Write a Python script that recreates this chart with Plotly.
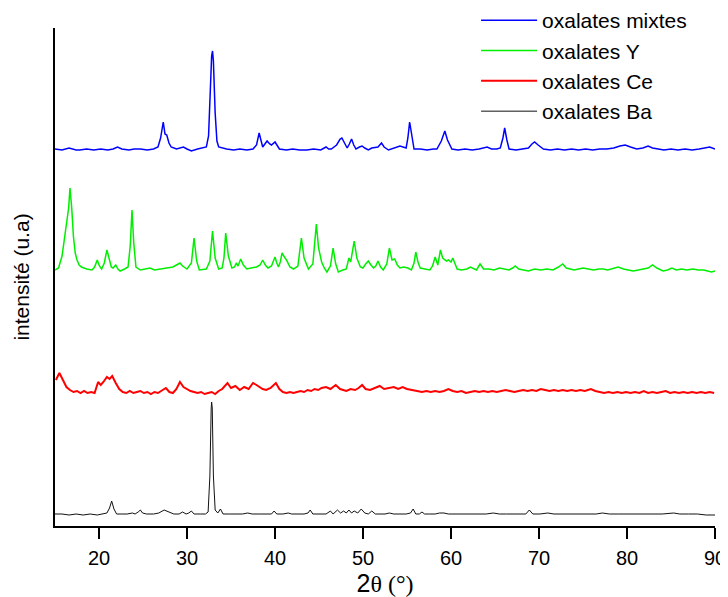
import plotly.graph_objects as go

# ---- data (x = 2theta in degrees, y = stacked intensity, arbitrary units) ----
mixtes = [(15.0,377),(15.8,376),(16.6,378),(17.4,376),(17.8,376),(18.6,377),(19.4,376),(20.2,377),(21.0,376),(21.6,377),
          (22.1,379),(22.6,377),(23.4,376),(24.0,377),(24.7,377),(25.5,376),(26.2,377),(26.7,379),(27.0,388),(27.3,404),
          (27.5,392),(27.7,391),(27.95,383),(28.2,379),(28.8,377),(29.6,379),(30.0,377),(30.5,375),(31.2,377),(31.7,378),
          (32.2,379),(32.45,390),(32.6,429),(32.8,470),(32.9,475),(33.0,465),(33.2,413),(33.4,385),(33.6,379),(34.5,377),
          (35.3,376),(36.0,377),(36.8,376),(37.5,377),(37.9,381),(38.2,393),(38.4,386),(38.6,379),(38.85,382),(39.1,385),
          (39.4,382),(39.6,381),(40.0,384),(40.25,380),(40.5,377),(41.3,376),(42.0,377),(42.8,376),(43.6,376),(44.4,377),
          (45.2,376),(45.8,379),(46.1,377),(46.4,377),(47.0,381),(47.4,387),(47.6,388),(47.9,383),(48.2,378),(48.45,382),
          (48.7,387),(48.95,381),(49.2,377),(49.6,379),(49.9,380),(50.2,378),(50.6,376),(51.0,378),(51.4,379),(51.7,379),
          (52.1,383),(52.4,379),(52.9,376),(53.5,378),(54.2,380),(54.9,378),(55.1,388),(55.3,404),(55.5,392),(55.8,377),
          (56.5,377),(57.3,376),(58.0,377),(58.4,377),(58.9,385),(59.3,395),(59.6,386),(60.1,377),(60.8,376),(61.6,377),
          (62.4,376),(63.2,377),(64.1,379),(64.6,377),(65.2,377),(65.6,378),(65.9,388),(66.1,398),(66.35,386),(66.6,377),
          (67.4,376),(68.2,377),(68.8,378),(69.2,382),(69.5,384),(69.9,381),(70.5,377),(71.3,376),(72.1,377),(72.9,376),
          (73.7,377),(74.5,376),(75.3,377),(76.1,376),(76.9,377),(77.7,377),(78.5,378),(79.2,380),(79.8,381),(80.4,379),
          (81.1,377),(81.8,378),(82.4,380),(82.9,378),(83.4,377),(84.2,376),(85.0,377),(85.8,376),(86.6,377),(87.4,376),
          (88.2,377),(88.8,378),(89.4,379),(90.0,377)]

oxal_y = [(15.0,256),(15.4,258),(15.8,270),(16.1,290),(16.4,313),(16.55,318),(16.7,338),(16.9,318),(17.1,289),(17.3,273),
          (17.5,266),(17.75,261),(18.0,259),(18.6,257),(19.2,256),(19.5,259),(19.8,266),(20.05,260),(20.3,257),(20.6,263),
          (20.9,276),(21.15,266),(21.4,259),(21.6,258),(21.9,261),(22.15,257),(22.4,255),(22.9,257),(23.3,259),(23.55,280),
          (23.75,316),(23.95,283),(24.2,259),(24.7,256),(25.2,257),(25.8,258),(26.3,256),(26.9,257),(27.5,258),(28.0,259),
          (28.4,259),(28.8,261),(29.2,263),(29.5,260),(30.0,257),(30.5,263),(30.8,288),(31.1,265),(31.4,256),(32.2,257),
          (32.6,265),(32.9,295),(33.2,268),(33.6,257),(34.0,258),(34.2,268),(34.4,293),(34.7,270),(35.1,258),(35.4,259),
          (35.6,263),(35.8,260),(36.1,267),(36.4,261),(36.8,257),(37.3,258),(37.9,259),(38.3,261),(38.6,266),(38.9,261),
          (39.2,258),(39.6,260),(40.0,269),(40.2,263),(40.4,259),(40.6,264),(40.8,273),(41.0,270),(41.3,266),(41.7,259),
          (42.1,257),(42.6,260),(43.0,288),(43.3,268),(43.8,257),(44.3,262),(44.5,280),(44.7,302),(44.95,278),(45.3,264),
          (45.6,258),(45.9,254),(46.3,260),(46.6,278),(46.9,262),(47.2,254),(47.7,256),(48.1,257),(48.4,268),(48.6,264),
          (49.0,285),(49.3,268),(49.7,259),(50.0,258),(50.3,262),(50.6,265),(50.9,261),(51.2,258),(51.45,260),(51.7,265),
          (52.0,259),(52.3,256),(52.7,262),(53.0,278),(53.3,266),(53.6,267),(53.9,261),(54.2,258),(54.6,259),(55.1,258),
          (55.5,256),(55.8,263),(56.0,274),(56.25,264),(56.5,258),(57.0,257),(57.6,256),(57.9,260),(58.2,269),(58.5,261),
          (58.8,276),(59.05,268),(59.3,266),(59.5,265),(59.7,266),(60.0,264),(60.2,268),(60.45,262),(60.7,257),(61.2,256),
          (61.8,257),(62.2,259),(62.6,257),(62.9,256),(63.3,262),(63.7,257),(64.3,257),(64.9,256),(65.5,258),(66.0,257),
          (66.6,256),(67.0,258),(67.3,260),(67.7,257),(68.2,256),(68.8,255),(69.5,257),(70.2,256),(70.9,257),(71.6,256),
          (72.2,259),(72.7,262),(73.1,258),(73.5,257),(74.0,256),(74.5,257),(75.0,258),(75.6,257),(76.2,256),(76.8,257),
          (77.3,257),(77.8,256),(78.5,258),(79.0,259),(79.6,257),(80.2,256),(80.7,255),(81.3,256),(81.9,257),(82.4,258),
          (82.9,261),(83.4,258),(84.1,255),(84.6,256),(85.1,258),(85.6,256),(86.2,257),(86.8,256),(87.5,257),(88.1,256),
          (88.7,256),(89.2,255),(89.6,254),(90.0,255)]

oxal_ce = [(15.1,146),(15.5,153),(15.9,146),(16.3,139),(16.7,136),(17.1,134),(17.5,135),(17.9,133),(18.3,135),(18.7,133),
           (19.1,134),(19.5,133),(19.9,144),(20.2,141),(20.5,144),(20.9,149),(21.2,147),(21.5,150),(21.9,143),(22.3,137),
           (22.7,134),(23.1,133),(23.5,135),(23.9,133),(24.3,134),(24.7,135),(25.1,133),(25.5,134),(25.9,132),(26.3,134),
           (26.7,133),(27.1,135),(27.6,138),(28.0,134),(28.4,133),(28.8,137),(29.2,144),(29.6,139),(30.0,137),(30.4,135),
           (30.8,134),(31.2,133),(31.6,134),(32.0,132),(32.4,133),(32.8,134),(33.2,132),(33.6,135),(34.0,137),(34.6,143),
           (35.0,138),(35.5,140),(36.0,136),(36.5,139),(37.0,137),(37.5,143),(37.9,141),(38.2,139),(38.6,137),(39.0,136),
           (39.5,138),(40.1,143),(40.5,137),(40.9,134),(41.3,133),(41.7,134),(42.1,133),(42.5,134),(42.9,135),(43.3,134),
           (43.7,136),(44.1,135),(44.5,137),(44.9,136),(45.3,138),(45.8,139),(46.3,137),(46.9,141),(47.4,137),(48.1,135),
           (48.6,137),(49.1,136),(49.5,138),(49.9,141),(50.3,137),(50.8,136),(51.3,138),(51.9,140),(52.4,137),(52.9,138),
           (53.5,139),(54.0,137),(54.5,139),(55.0,137),(55.7,136),(56.2,135),(56.7,134),(57.2,135),(57.7,134),(58.2,135),
           (58.7,134),(59.2,135),(59.7,137),(60.2,135),(60.7,134),(61.2,135),(61.7,133),(62.2,134),(62.7,135),(63.2,134),
           (63.7,135),(64.2,134),(64.7,135),(65.2,134),(65.7,135),(66.2,136),(66.7,135),(67.2,134),(67.7,135),(68.2,136),
           (68.7,135),(69.2,136),(69.7,135),(70.2,137),(70.7,136),(71.2,135),(71.7,136),(72.2,135),(72.7,136),(73.2,135),
           (73.7,136),(74.2,135),(74.7,136),(75.2,135),(75.9,137),(76.4,135),(76.9,134),(77.4,133),(77.9,134),(78.4,133),
           (78.9,134),(79.4,133),(79.9,134),(80.4,133),(80.9,134),(81.4,133),(81.9,135),(82.4,133),(82.9,134),(83.4,133),
           (83.9,134),(84.4,135),(84.9,133),(85.4,134),(85.9,133),(86.4,134),(86.9,133),(87.4,134),(87.9,133),(88.4,134),
           (88.9,133),(89.4,134),(89.9,133)]

oxal_ba = [(15.0,12),(15.8,12),(16.6,11),(17.4,12),(18.2,11),(19.0,12),(19.8,11),(20.4,12),(20.9,13),(21.2,18),
           (21.44,25),(21.7,17),(22.0,12),(22.6,12),(23.2,12),(23.8,13),(24.1,12),(24.45,14),(24.7,16),(24.95,13),
           (25.4,12),(26.2,12),(26.8,13),(27.4,16),(27.9,14),(28.5,12),(29.1,12),(29.5,14),(29.9,12),(30.2,13),
           (30.5,15),(30.8,12),(31.5,12),(32.1,12),(32.4,14),(32.6,50),(32.75,118),(32.8,124),(32.87,118),(33.0,50),
           (33.2,16),(33.5,13),(33.8,17),(34.1,12),(34.8,12),(35.6,12),(36.3,12),(36.9,13),(37.4,12),(38.2,12),
           (38.9,12),(39.6,12),(39.9,15),(40.2,12),(40.9,12),(41.5,13),(41.9,12),(42.6,12),(43.3,12),(43.75,13),
           (44.0,16),(44.3,12),(45.0,12),(45.8,12),(46.3,15),(46.6,12),(47.1,16),(47.45,13),(47.8,15),(48.1,13),
           (48.4,16),(48.7,13),(49.0,15),(49.4,13),(49.8,17),(50.2,13),(50.6,12),(51.0,15),(51.4,12),(52.0,12),
           (52.5,12),(53.0,13),(53.5,12),(54.2,12),(54.9,12),(55.4,13),(55.7,17),(56.0,12),(56.4,12),(56.7,14),
           (57.0,12),(57.6,12),(58.2,12),(58.7,13),(59.2,13),(59.7,12),(60.5,12),(61.4,12),(62.3,12),(63.2,12),
           (64.0,12),(64.8,13),(65.5,12),(66.3,12),(67.1,12),(67.9,12),(68.5,12),(68.9,16),(69.3,12),(70.1,12),
           (71.0,13),(71.7,12),(72.5,12),(73.5,12),(74.5,12),(75.5,12),(76.5,12),(77.2,13),(78.0,12),(79.0,12),
           (80.0,12),(81.0,12),(82.0,12),(83.0,12),(84.0,12),(85.3,13),(86.0,12),(87.0,12),(88.0,12),(89.0,11),
           (90.0,11)]

series_names = ["oxalates mixtes", "oxalates Y", "oxalates Ce", "oxalates Ba"]
series_data = [mixtes, oxal_y, oxal_ce, oxal_ba]
series_colors = ["#0000ff", "#00ee00", "#ff0000", "#111111"]
series_widths = [1.5, 1.5, 2.0, 1.0]
x_ticks = [20, 30, 40, 50, 60, 70, 80, 90]

fig = go.Figure()
for name, pts, col, w in zip(series_names, series_data, series_colors, series_widths):
    xs = [p[0] for p in pts]
    ys = [p[1] for p in pts]
    fig.add_trace(go.Scatter(x=xs, y=ys, mode="lines", name=name,
                             line=dict(color=col, width=w)))

font_main = "Liberation Sans, Arial, sans-serif"
fig.update_layout(
    width=720, height=589,
    margin=dict(l=47, r=13, t=20, b=71, autoexpand=False),
    paper_bgcolor="white", plot_bgcolor="white",
    font=dict(family=font_main, size=20, color="black"),
    showlegend=True,
    legend=dict(x=0.638, y=1.056, xanchor="left", yanchor="top",
                bgcolor="rgba(0,0,0,0)", font=dict(size=21),
                itemwidth=56, traceorder="normal"),
    xaxis=dict(range=[15, 90], tickvals=x_ticks, ticks="outside", ticklen=11,
               tickwidth=2, tickcolor="black", showline=True, linecolor="black",
               linewidth=2, showgrid=False, zeroline=False, automargin=False,
               tickfont=dict(size=20), ticklabelstandoff=2,
               title=dict(text="2<span style='font-family:Liberation Serif;font-size:24px'>θ (°)</span>",
                          font=dict(size=25), standoff=0)),
    yaxis=dict(range=[0, 498], showticklabels=False, ticks="", showline=True,
               linecolor="black", linewidth=2, showgrid=False, zeroline=False,
               automargin=False,
               title=dict(text="intensité (u.a)", font=dict(size=21), standoff=18)),
)

fig.write_html("out.html")
